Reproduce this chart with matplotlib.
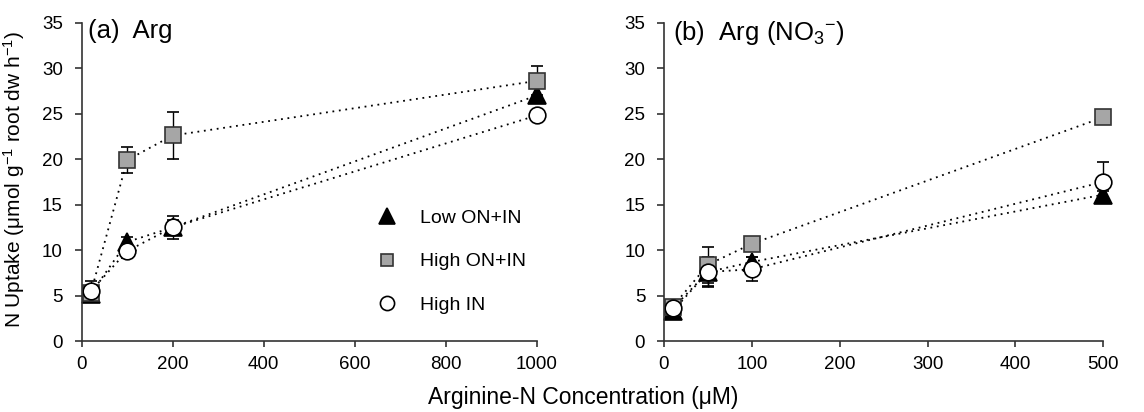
import matplotlib
matplotlib.use("Agg")
import matplotlib.pyplot as plt
from matplotlib.lines import Line2D

plt.rcParams['font.family'] = ['Liberation Sans', 'DejaVu Sans']
plt.rcParams['mathtext.default'] = 'regular'

# panel (a): Arg
conc_a = [20, 100, 200, 1000]
low_a = [5.2, 10.9, 12.5, 27.0]
low_a_err = [0.3, 0.5, 0.8, 0.8]
highon_a = [5.3, 19.9, 22.6, 28.6]
highon_a_err = [0.5, 1.4, 2.6, 1.6]
highin_a = [5.5, 9.9, 12.5, 24.8]
highin_a_err = [1.1, 0.8, 1.3, 0.5]

# panel (b): Arg (NO3-)
conc_b = [10, 50, 100, 500]
low_b = [3.3, 7.6, 8.7, 16.1]
low_b_err = [0.3, 1.5, 0.5, 0.4]
highon_b = [3.8, 8.4, 10.7, 24.6]
highon_b_err = [0.3, 2.0, 0.4, 0.4]
highin_b = [3.6, 7.6, 7.9, 17.5]
highin_b_err = [0.4, 1.7, 1.3, 2.2]

series_names = ['Low ON+IN', 'High ON+IN', 'High IN']

fig = plt.figure(figsize=(11.44, 4.12), dpi=100)
ax1 = fig.add_axes([0.0714, 0.172, 0.3978, 0.773])
ax2 = fig.add_axes([0.5804, 0.172, 0.3840, 0.773])

dot = (0, (1, 2.6))
styles = [
    dict(marker='^', mfc='black', mec='black', ms=13),
    dict(marker='s', mfc='#a6a6a6', mec='#333333', ms=11),
    dict(marker='o', mfc='white', mec='black', ms=12),
]


def draw(ax, x, ys, errs, xmax, xstep):
    for y, e, st in zip(ys, errs, styles):
        ax.errorbar(x, y, yerr=e, ls=dot, lw=1.3, color='black', capsize=4,
                    elinewidth=1, capthick=1, ecolor='black', mew=1.2,
                    clip_on=False, **st)
    ax.set_xlim(0, xmax)
    ax.set_ylim(0, 35)
    ax.set_xticks(range(0, xmax + 1, xstep))
    ax.set_yticks(range(0, 36, 5))
    for s in ['top', 'right']:
        ax.spines[s].set_visible(False)
    for s in ['left', 'bottom']:
        ax.spines[s].set_color('#333333')
        ax.spines[s].set_linewidth(1.2)
    ax.tick_params(axis='y', direction='out', width=1.2, color='#333333',
                   labelsize=13.5, length=5, pad=8.5)
    ax.tick_params(axis='x', direction='out', width=1.2, color='#333333',
                   labelsize=13.5, length=4, pad=7)


draw(ax1, conc_a, [low_a, highon_a, highin_a],
     [low_a_err, highon_a_err, highin_a_err], 1000, 200)
draw(ax2, conc_b, [low_b, highon_b, highin_b],
     [low_b_err, highon_b_err, highin_b_err], 500, 100)

ax1.text(0.013, 1.01, '(a)  Arg', transform=ax1.transAxes, fontsize=18.5,
         va='top', ha='left')
ax2.text(0.02, 1.01, '(b)  Arg (NO$_3$$^{-}$)', transform=ax2.transAxes,
         fontsize=18.5, va='top', ha='left')

fig.text(0.012, 0.565, 'N Uptake (μmol g$^{-1}$ root dw h$^{-1}$)',
         rotation=90, ha='center', va='center', fontsize=15)
fig.text(0.51, 0.036, 'Arginine-N Concentration (μM)', ha='center',
         va='center', fontsize=16.5)

handles = [Line2D([], [], ls='none', mew=1.2, **dict(st, ms=st['ms'] * 0.85))
           for st in styles]
ax1.legend(handles, series_names, loc='upper left',
           bbox_to_anchor=(0.612, 0.47), frameon=False, fontsize=14,
           labelspacing=1.35, handletextpad=1.2, handlelength=1.0)

fig.savefig('out.png', dpi=100)
